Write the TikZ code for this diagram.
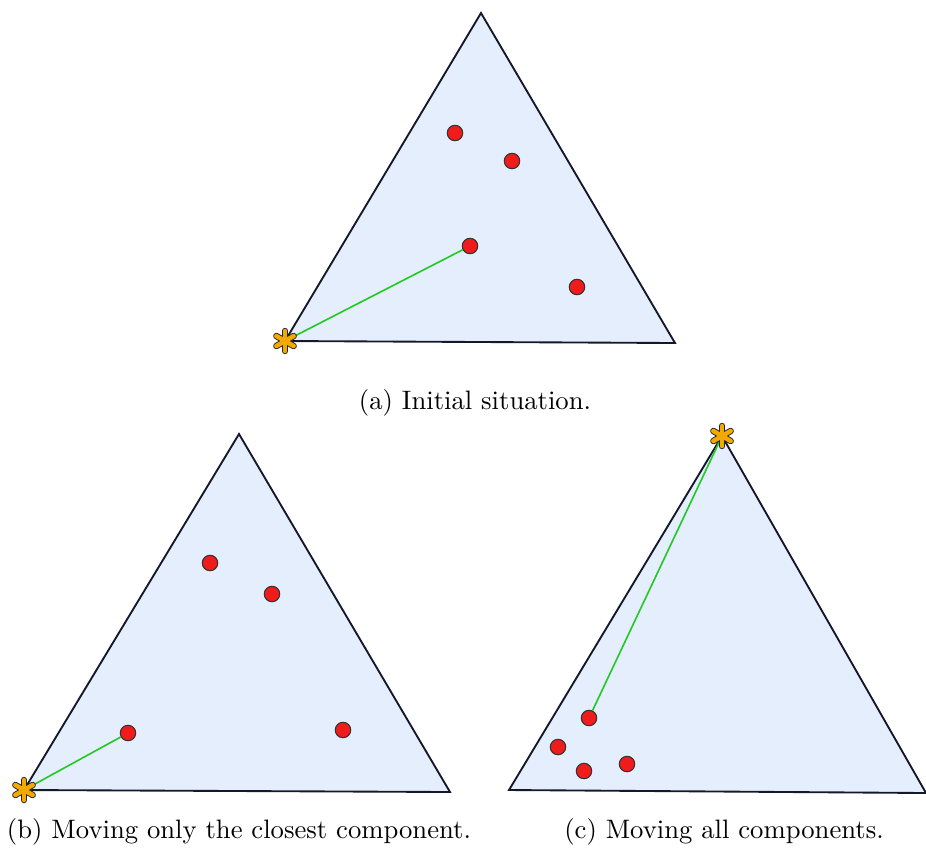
\documentclass[tikz,border=0pt]{standalone}
\usetikzlibrary{calc}

\definecolor{simplexfill}{HTML}{E5EEFC}
\definecolor{simplexedge}{HTML}{15182A}
\definecolor{pointred}{HTML}{F01C1C}
\definecolor{movegreen}{HTML}{22C922}
\definecolor{starorange}{HTML}{F2AA00}

\tikzset{
  simplex/.style={fill=simplexfill, draw=simplexedge, line width=0.7pt, line join=miter},
  comp/.style={circle, fill=pointred, draw=black!80, line width=0.4pt, inner sep=0pt, minimum size=5.8pt},
  move/.style={movegreen, line width=0.6pt},
  subcap/.style={anchor=center, inner sep=0pt},
  gstar/.pic={
    \foreach \a in {30,90,...,330} % outline of the petals
      \draw[black!85, line width=2.4pt, line cap=round] (0,0) -- (\a:10);
    \foreach \a in {30,90,...,330} % orange petals
      \draw[starorange, line width=1.7pt, line cap=round] (0,0) -- (\a:10);
  }
}

\begin{document}
\begin{tikzpicture}[x=0.375pt, y=-0.375pt]
\useasboundingbox (0,0) rectangle (926,847);

% (a) initial situation
\draw[simplex] (481,13) -- (285,341) -- (675,343) -- cycle;
\coordinate (sa) at (285,341);
\node[comp] (a1) at (455,133) {};
\node[comp] (a2) at (512,161) {};
\node[comp] (a3) at (470,246) {};
\node[comp] (a4) at (577,287) {};
\draw[move] (sa) -- (a3);
\pic at (sa) {gstar};
\node[subcap] (capa) at (475,403) {(a) Initial situation.};

% (b) closest component only
\draw[simplex] (239,434) -- (24,790) -- (450,792) -- cycle;
\coordinate (sb) at (24,790);
\node[comp] (b1) at (210,563) {};
\node[comp] (b2) at (272,594) {};
\node[comp] (b3) at (128,733) {};
\node[comp] (b4) at (343,730) {};
\draw[move] (sb) -- (b3);
\pic at (sb) {gstar};
\node[subcap] (capb) at (239,832) {(b) Moving only the closest component.};

% (c) all components
\draw[simplex] (722,436) -- (509,790) -- (926,793) -- cycle;
\coordinate (sc) at (722,436);
\node[comp] (c1) at (589,718) {};
\node[comp] (c2) at (558,747) {};
\node[comp] (c3) at (584,771) {};
\node[comp] (c4) at (627,764) {};
\draw[move] (sc) -- (c1);
\pic at (sc) {gstar};
\node[subcap] (capc) at (724,832) {(c) Moving all components.};

\end{tikzpicture}
\end{document}
